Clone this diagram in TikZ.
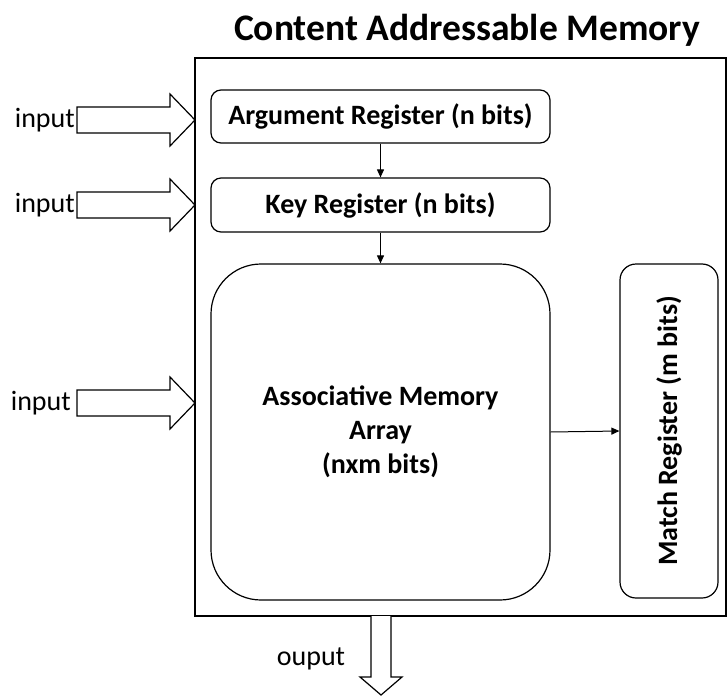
\documentclass[tikz,border=0pt]{standalone}
\usepackage{fontspec}
\setmainfont{Carlito}
\usetikzlibrary{arrows.meta}
\tikzset{
  box/.style={draw, line width=1.2pt, rounded corners=10pt, inner sep=0pt,
    font=\fontsize{28}{34}\selectfont\bfseries, align=center},
  link/.style={line width=1pt, -{Triangle[length=8pt,width=7pt]}},
  blockarrow/.style={draw, line width=1.2pt, fill=white},
  lbl/.style={font=\fontsize{28}{30}\selectfont, inner sep=0pt},
  inarrow/.pic={\path[blockarrow] (-118,-13) -- (-25,-13) -- (-25,-26) -- (0,0)
      -- (-25,26) -- (-25,13) -- (-118,13) -- cycle;},
  outarrow/.pic={\path[blockarrow] (-10,0) -- (-10,61) -- (-21,61) -- (0,79)
      -- (21,61) -- (10,61) -- (10,0);}
}
\begin{document}
\begin{tikzpicture}[x=1pt, y=-1pt]
  \useasboundingbox (0,0) rectangle (727,695);

  % title and outer frame
  \node[font=\fontsize{37.5}{40}\selectfont\bfseries, inner sep=0pt] (title) at (467,30) {Content Addressable Memory};
  \node[draw, line width=1.2pt, minimum width=531pt, minimum height=558pt, inner sep=0pt] (cam) at (460.5,337) {};

  % registers and memory array
  \node[box, minimum width=339pt, minimum height=53pt] (arg) at (380.5,116.5) {Argument Register (n bits)};
  \node[box, minimum width=339pt, minimum height=54pt] (key) at (380.5,205) {Key Register (n bits)};
  \node[box, rounded corners=50pt, minimum width=339pt, minimum height=336pt] (assoc) at (380.5,432)
    {Associative Memory\\Array\\(nxm bits)};
  \node[box, rounded corners=16pt, minimum width=98pt, minimum height=334pt] (match) at (669,431) {};
  \node[font=\fontsize{28}{30}\selectfont\bfseries, rotate=90, inner sep=0pt] (matchtext) at (match.center) {Match Register (m bits)};

  % internal connections
  \draw[link] (arg.south) -- (key.north);
  \draw[link] (key.south) -- (assoc.north);
  \draw[link] (assoc.east) -- (match.west);

  % inputs
  \coordinate (in1) at (195,120);
  \coordinate (in2) at (195,205);
  \coordinate (in3) at (195,403);
  \pic at (in1) {inarrow};
  \pic at (in2) {inarrow};
  \pic at (in3) {inarrow};
  \node[lbl, anchor=east] (l1) at (75,120) {input};
  \node[lbl, anchor=east] (l2) at (75,205) {input};
  \node[lbl, anchor=east] (l3) at (71,403) {input};

  % output
  \coordinate (out) at (381,616);
  \pic at (out) {outarrow};
  \node[lbl] (lo) at (311,659) {ouput};
\end{tikzpicture}
\end{document}
